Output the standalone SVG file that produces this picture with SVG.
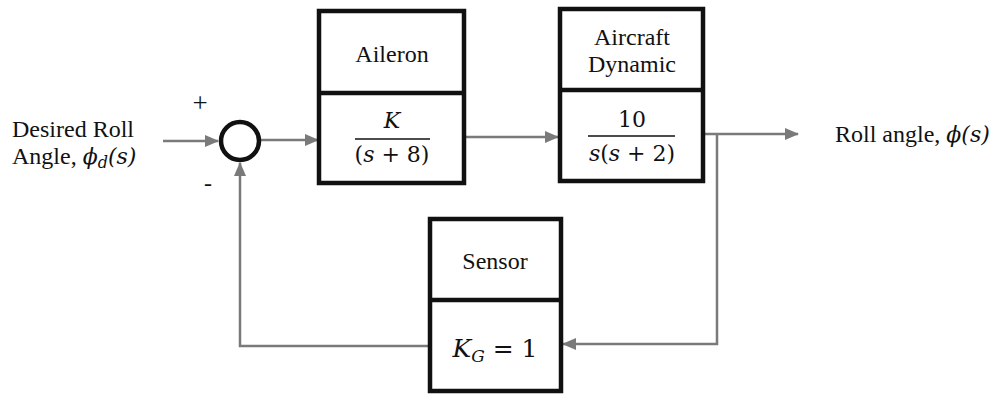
<svg xmlns="http://www.w3.org/2000/svg" width="1002" height="394" viewBox="0 0 1002 394">
<style>
.box{fill:#fff;stroke:#111;stroke-width:4.5}
.div{stroke:#111;stroke-width:4.5}
.ln{fill:none;stroke:#7a7a7a;stroke-width:2.5}
.t{font-family:"Liberation Serif","Times New Roman",serif;font-size:24px;fill:#111;text-anchor:middle}
.s{font-family:"Liberation Serif","Times New Roman",serif;font-size:24px;fill:#111}
.m{font-family:"DejaVu Serif",serif;font-size:22px;fill:#111;text-anchor:middle}
.mi{font-family:"DejaVu Serif",serif;font-style:italic}
.i{font-style:italic}
</style>
<defs>
<marker id="ah" markerWidth="14" markerHeight="12" refX="13" refY="6" orient="auto" markerUnits="userSpaceOnUse">
<path d="M0,0 L14,6 L0,12 z" fill="#7a7a7a"/>
</marker>
</defs>
<rect width="1002" height="394" fill="#fff"/>
<g id="connectors">
<line class="ln" x1="163" y1="141" x2="218" y2="141" marker-end="url(#ah)"/>
<line class="ln" x1="261" y1="140" x2="318" y2="140" marker-end="url(#ah)"/>
<line class="ln" x1="466" y1="137" x2="558" y2="137" marker-end="url(#ah)"/>
<line class="ln" x1="705" y1="134" x2="798" y2="134" marker-end="url(#ah)"/>
<polyline class="ln" points="717,134 717,344 563,344" marker-end="url(#ah)"/>
<polyline class="ln" points="428,346 240,346 240,163" marker-end="url(#ah)"/>
</g>
<g id="sum">
<circle cx="240" cy="141" r="19" fill="#fff" stroke="#111" stroke-width="4.5"/>
<text class="t" x="200" y="112" style="font-size:27px">+</text>
<text class="t" x="208" y="191" style="font-size:24px">-</text>
</g>
<g id="input">
<text class="s" x="12" y="137">Desired Roll</text>
<text class="s" x="12" y="164">Angle, <tspan class="mi" font-size="22">ϕ</tspan><tspan class="mi" font-size="16" dy="4">d</tspan><tspan class="mi" font-size="22" dy="-4" font-style="normal">(</tspan><tspan class="mi" font-size="22">s</tspan><tspan class="mi" font-size="22" font-style="normal">)</tspan></text>
</g>
<g id="aileron">
<rect class="box" x="319" y="11" width="145" height="172"/>
<line class="div" x1="319" y1="93" x2="464" y2="93"/>
<text class="t" x="392" y="62">Aileron</text>
<text class="m" x="392" y="128"><tspan class="i">K</tspan></text>
<line x1="355" y1="139" x2="430" y2="139" stroke="#111" stroke-width="1.5"/>
<text class="m" x="392" y="162">(<tspan class="i">s</tspan> + 8)</text>
</g>
<g id="aircraft">
<rect class="box" x="560" y="9" width="143" height="172"/>
<line class="div" x1="560" y1="90" x2="703" y2="90"/>
<text class="t" x="632" y="45">Aircraft</text>
<text class="t" x="632" y="72">Dynamic</text>
<text class="m" x="632" y="127">10</text>
<line x1="588" y1="136" x2="675" y2="136" stroke="#111" stroke-width="1.5"/>
<text class="m" x="632" y="161"><tspan class="i">s</tspan>(<tspan class="i">s</tspan> + 2)</text>
</g>
<g id="output">
<text class="s" x="835" y="142">Roll angle, <tspan class="mi" font-size="22">ϕ</tspan><tspan class="mi" font-size="22" font-style="normal">(</tspan><tspan class="mi" font-size="22">s</tspan><tspan class="mi" font-size="22" font-style="normal">)</tspan></text>
</g>
<g id="sensor">
<rect class="box" x="430" y="219" width="131" height="172"/>
<line class="div" x1="430" y1="300" x2="561" y2="300"/>
<text class="t" x="495" y="269">Sensor</text>
<text class="m" x="495" y="357" style="font-size:25px"><tspan class="i">K</tspan><tspan class="i" font-size="17" dy="5">G</tspan><tspan dy="-5"> = 1</tspan></text>
</g>
</svg>
